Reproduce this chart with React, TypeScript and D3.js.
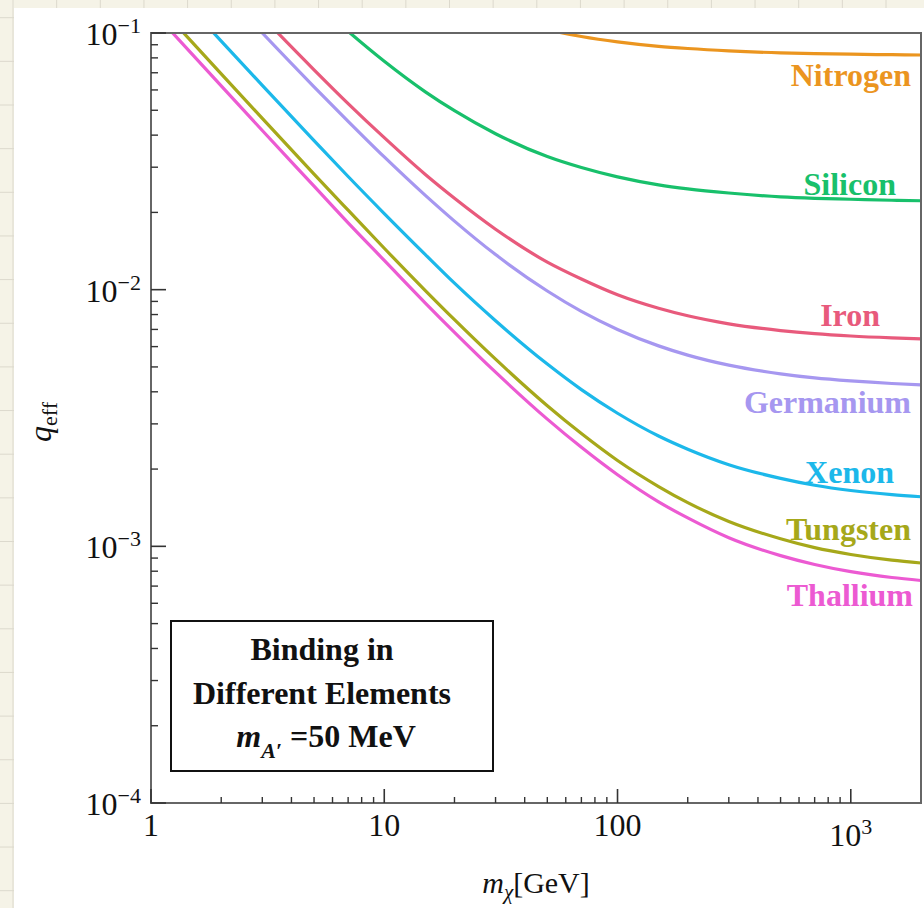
import React from "react";
import * as d3 from "d3";

const masses = [1, 1.2, 1.5, 2, 3, 5, 7, 10, 15, 20, 30, 50, 70, 100, 150, 200, 300, 500, 700, 1000, 1500, 2000];

const nitrogen = [null, null, null, null, null, null, null, null, null, null, 0.117, 0.103, 0.0969, 0.0923, 0.0887, 0.087, 0.0852, 0.0837, 0.0831, 0.0827, 0.0823, 0.0821];
const silicon = [null, null, null, null, null, 0.133, 0.1015, 0.0776, 0.059, 0.0498, 0.0405, 0.033, 0.0299, 0.0275, 0.0256, 0.0247, 0.0238, 0.023, 0.0227, 0.0225, 0.0223, 0.0222];
const iron = [null, null, null, 0.17, 0.1156, 0.0719, 0.0531, 0.0391, 0.0281, 0.0227, 0.0172, 0.0128, 0.011, 0.00955, 0.00846, 0.00791, 0.00736, 0.00693, 0.00674, 0.0066, 0.00649, 0.00643];
const germanium = [null, null, null, 0.148, 0.1, 0.0617, 0.0453, 0.0329, 0.0233, 0.0185, 0.0137, 0.00988, 0.00823, 0.007, 0.00604, 0.00556, 0.00508, 0.0047, 0.00453, 0.00441, 0.00431, 0.00426];
const xenon = [0.1845, 0.154, 0.1235, 0.093, 0.0625, 0.0381, 0.0276, 0.0198, 0.0137, 0.0106, 0.00757, 0.00513, 0.00408, 0.0033, 0.00269, 0.00239, 0.00208, 0.00184, 0.00173, 0.00165, 0.00159, 0.00156];
const tungsten = [0.1378, 0.115, 0.0921, 0.0693, 0.0465, 0.0282, 0.0204, 0.0145, 0.00992, 0.00764, 0.00536, 0.00353, 0.00275, 0.00216, 0.00171, 0.00148, 0.00125, 0.00107, 0.000988, 0.000929, 0.000883, 0.000861];
const thallium = [0.1237, 0.1032, 0.0827, 0.0622, 0.0417, 0.0253, 0.0182, 0.013, 0.00887, 0.00682, 0.00477, 0.00313, 0.00243, 0.0019, 0.00149, 0.00129, 0.00108, 0.00092, 0.00085, 0.000797, 0.000756, 0.000736];

const seriesNames = ["Nitrogen", "Silicon", "Iron", "Germanium", "Xenon", "Tungsten", "Thallium"];
const seriesValues = [nitrogen, silicon, iron, germanium, xenon, tungsten, thallium];
const seriesColors = ["#eb951f", "#18c06b", "#e85a7c", "#a697f0", "#1cb8ea", "#a6a81a", "#ec5ad2"];
// label placement: [right x, baseline y]
const labelPos = [[911, 86], [896, 195], [880, 326], [911, 413], [894, 483], [911, 540], [913, 606]];

const xMajorTicks = [1, 10, 100, 1000];
const yMajorExps = [-1, -2, -3, -4];

const W = 924, H = 908;
const L = 151, R = 921, T = 33, B = 803;
const SERIF = "'Liberation Serif', 'Times New Roman', Times, serif";

export default function App() {
  const x = d3.scaleLog().domain([1, 2000]).range([L, R]);
  const y = d3.scaleLog().domain([1e-4, 1e-1]).range([B, T]);

  const line = d3
    .line<[number, number | null]>()
    .defined((d) => d[1] != null)
    .x((d) => x(d[0]))
    .y((d) => y(d[1] as number))
    .curve(d3.curveMonotoneX);

  const gridStep = 43.65;
  const vLines: number[] = [];
  for (let gx = 13; gx < W; gx += gridStep) vLines.push(gx);
  const hLines: number[] = [];
  for (let gy = 17.7; gy < H; gy += gridStep) hLines.push(gy);

  const xMinor: number[] = [];
  for (let d = 1; d <= 1000; d *= 10) for (let k = 2; k <= 9; k++) if (d * k < 2000) xMinor.push(d * k);
  const yMinor: number[] = [];
  for (let d = 1e-4; d < 0.1; d *= 10) for (let k = 2; k <= 9; k++) yMinor.push(d * k);

  return (
    <div style={{ position: "absolute", left: 0, top: 0 }}>
      <svg width={W} height={H} style={{ display: "block" }} fontFamily={SERIF}>
        <rect x={0} y={0} width={W} height={H} fill="#f5f3e7" />
        {vLines.map((gx, i) => (
          <line key={"v" + i} x1={gx} x2={gx} y1={0} y2={H} stroke="#dcd9cd" strokeWidth={1} />
        ))}
        {hLines.map((gy, i) => (
          <line key={"h" + i} x1={0} x2={W} y1={gy} y2={gy} stroke="#dcd9cd" strokeWidth={1} />
        ))}
        <rect x={14} y={8} width={W - 14} height={H - 8} fill="#ffffff" />

        <defs>
          <clipPath id="plotclip">
            <rect x={L} y={T} width={R - L} height={B - T} />
          </clipPath>
        </defs>

        <g clipPath="url(#plotclip)">
          {seriesValues.map((vals, i) => (
            <path
              key={seriesNames[i]}
              d={line(masses.map((m, j) => [m, vals[j]] as [number, number | null])) || ""}
              fill="none"
              stroke={seriesColors[i]}
              strokeWidth={3.2}
              strokeLinejoin="round"
            />
          ))}
        </g>

        {/* frame */}
        <rect x={L} y={T} width={R - L} height={B - T} fill="none" stroke="#666" strokeWidth={2} />

        {/* x ticks */}
        {xMajorTicks.map((t) => (
          <line key={"xM" + t} x1={x(t)} x2={x(t)} y1={B} y2={B - 14} stroke="#333" strokeWidth={1.6} />
        ))}
        {xMinor.map((t) => (
          <line key={"xm" + t} x1={x(t)} x2={x(t)} y1={B} y2={B - 6} stroke="#333" strokeWidth={1.4} />
        ))}
        {/* y ticks */}
        {yMajorExps.map((e) => (
          <line key={"yM" + e} x1={L} x2={L + 15} y1={y(Math.pow(10, e))} y2={y(Math.pow(10, e))} stroke="#333" strokeWidth={1.6} />
        ))}
        {yMinor.map((t, i) => (
          <line key={"ym" + i} x1={L} x2={L + 7} y1={y(t)} y2={y(t)} stroke="#333" strokeWidth={1.4} />
        ))}

        {/* x tick labels */}
        <text x={x(1)} y={836} fontSize={32} textAnchor="middle" fill="#111">1</text>
        <text x={x(10)} y={836} fontSize={32} textAnchor="middle" fill="#111">10</text>
        <text x={x(100)} y={836} fontSize={32} textAnchor="middle" fill="#111">100</text>
        <text x={x(1000)} y={846} fontSize={32} textAnchor="middle" fill="#111">
          10<tspan fontSize={22} dy={-12}>3</tspan>
        </text>

        {/* y tick labels */}
        {yMajorExps.map((e) => (
          <text key={"yl" + e} x={141} y={y(Math.pow(10, e)) + 12} fontSize={32} textAnchor="end" fill="#111">
            10<tspan fontSize={22} dy={-12}>{"\u2212" + Math.abs(e)}</tspan>
          </text>
        ))}

        {/* axis titles */}
        <text x={(L + R) / 2} y={893} fontSize={30} textAnchor="middle" fill="#111">
          <tspan fontStyle="italic">m</tspan>
          <tspan fontStyle="italic" fontSize={21} dy={6}>χ</tspan>
          <tspan dy={-6}>[GeV]</tspan>
        </text>
        <text transform={`translate(51,${(T + B) / 2 + 4}) rotate(-90)`} fontSize={32} textAnchor="middle" fill="#111">
          <tspan fontStyle="italic">q</tspan>
          <tspan fontSize={22} dy={6}>eff</tspan>
        </text>

        {/* curve labels */}
        {seriesNames.map((n, i) => (
          <text key={"lab" + n} x={labelPos[i][0]} y={labelPos[i][1]} fontSize={32} fontWeight="bold" textAnchor="end" fill={seriesColors[i]}>
            {n}
          </text>
        ))}

        {/* info box */}
        <rect x={171} y={621} width={322} height={150} fill="#fff" stroke="#111" strokeWidth={2} />
        <text x={322} y={660} fontSize={32} fontWeight="bold" textAnchor="middle" fill="#111">Binding in</text>
        <text x={322} y={704} fontSize={32} fontWeight="bold" textAnchor="middle" fill="#111">Different Elements</text>
        <text x={326} y={747} fontSize={32} fontWeight="bold" textAnchor="middle" fill="#111">
          <tspan fontStyle="italic">m</tspan>
          <tspan fontStyle="italic" fontSize={22} dy={11}>{"A\u2032"}</tspan>
          <tspan dy={-11}>{" =50 MeV"}</tspan>
        </text>
      </svg>
    </div>
  );
}
